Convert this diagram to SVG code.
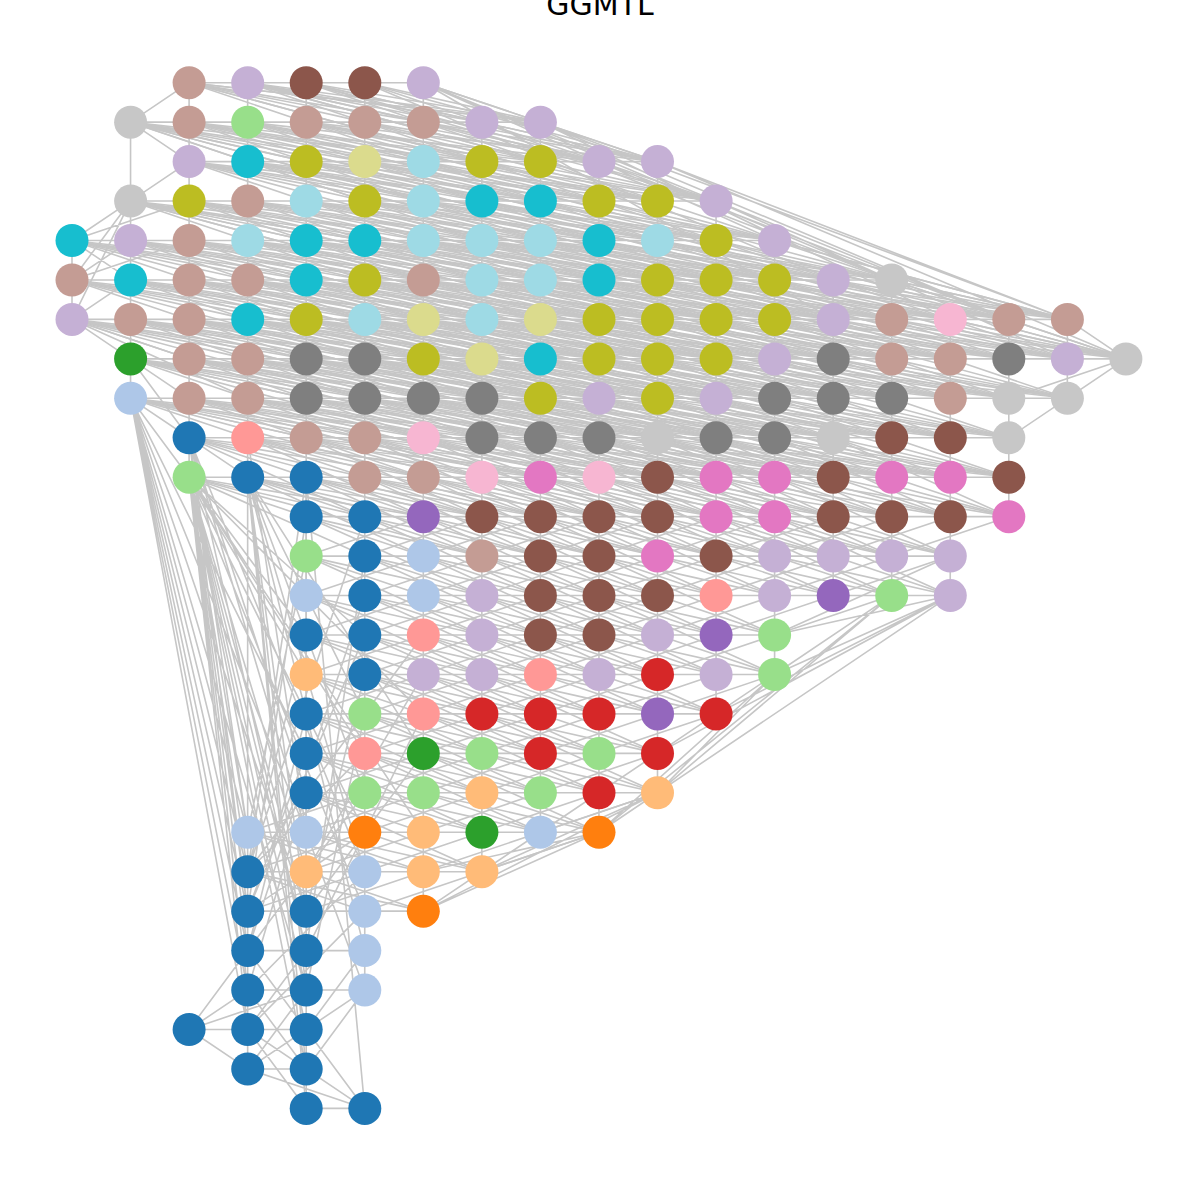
<svg xmlns="http://www.w3.org/2000/svg" width="1196" height="1180" viewBox="0 0 1196 1180">
<style>
.e path{fill:none;stroke:#c6c6c6;stroke-width:1.6px;vector-effect:non-scaling-stroke}
.bl{fill:#1f77b4}.lbl{fill:#aec7e8}.or{fill:#ff7f0e}.lor{fill:#ffbb78}.gr{fill:#2ca02c}.lgr{fill:#98df8a}.rd{fill:#d62728}.lrd{fill:#ff9896}.pu{fill:#9467bd}.lpu{fill:#c5b0d5}.br{fill:#8c564b}.lbr{fill:#c49c94}.pk{fill:#e377c2}.lpk{fill:#f7b6d2}.gy{fill:#7f7f7f}.lgy{fill:#c7c7c7}.ol{fill:#bcbd22}.lol{fill:#dbdb8d}.cy{fill:#17becf}.lcy{fill:#9edae5}
.t{font-family:"DejaVu Sans","Liberation Sans",sans-serif;font-size:30px;fill:#000}
</style>
<rect width="1196" height="1180" fill="#fff"/>
<text class="t" x="600" y="15" text-anchor="middle">GGMTL</text>
<g id="connectors" class="e" transform="translate(72 82.7) scale(58.55 39.45)">
<path vector-effect="non-scaling-stroke" d="M2 0l3 1m-2-1l3 1m-2-1l3 1m-2-1l3 1m-2-1
M1 1l3 1m-2-1l3 1m-2-1l3 1m-2-1l3 1m-2-1 l3 1m-2-1l3 1m-2-1l3 1m-2-1
M2 2l3 1m-2-1l3 1m-2-1l3 1m-2-1l3 1m-2-1 l3 1m-2-1l3 1m-2-1l3 1m-2-1
M1 3l3 1m-2-1l3 1m-2-1l3 1m-2-1l3 1m-2-1 l3 1m-2-1l3 1m-2-1l3 1m-2-1l3 1m-2-1 l3 1m-2-1
M0 4l3 1m-2-1l3 1m-2-1l3 1m-2-1l3 1m-2-1 l3 1m-2-1l3 1m-2-1l3 1m-2-1l3 1m-2-1 l3 1m-2-1l3 1m-2-1l3 1m-2-1l3 1m-2-1
M0 5l3 1m-2-1l3 1m-2-1l3 1m-2-1l3 1m-2-1 l3 1m-2-1l3 1m-2-1l3 1m-2-1l3 1m-2-1 l3 1m-2-1l3 1m-2-1l3 1m-2-1l3 1m-2-1 l3 1m-2-1l3 1m-2-1l3 1m-2-1
M0 6l3 1m-2-1l3 1m-2-1l3 1m-2-1l3 1m-2-1 l3 1m-2-1l3 1m-2-1l3 1m-2-1l3 1m-2-1 l3 1m-2-1l3 1m-2-1l3 1m-2-1l3 1m-2-1 l3 1m-2-1l3 1m-2-1l3 1m-2-1l3 1m-2-1
M1 7l3 1m-2-1l3 1m-2-1l3 1m-2-1l3 1m-2-1 l3 1m-2-1l3 1m-2-1l3 1m-2-1l3 1m-2-1 l3 1m-2-1l3 1m-2-1l3 1m-2-1l3 1m-2-1 l3 1m-2-1l3 1m-2-1
M1 8l3 1m-2-1l3 1m-2-1l3 1m-2-1l3 1m-2-1 l3 1m-2-1l3 1m-2-1l3 1m-2-1l3 1m-2-1 l3 1m-2-1l3 1m-2-1l3 1m-2-1l3 1m-2-1 l3 1m-2-1
M2 9l3 1m-2-1l3 1m-2-1l3 1m-2-1l3 1m-2-1 l3 1m-2-1l3 1m-2-1l3 1m-2-1l3 1m-2-1 l3 1m-2-1l3 1m-2-1l3 1m-2-1l3 1m-2-1
M2 10l3 1m-2-1l3 1m-2-1l3 1m-2-1l3 1m-2-1 l3 1m-2-1l3 1m-2-1l3 1m-2-1l3 1m-2-1 l3 1m-2-1l3 1m-2-1l3 1m-2-1l3 1m-2-1
M4 11l3 1m-2-1l3 1m-2-1l3 1m-2-1l3 1m-2-1 l3 1m-2-1l3 1m-2-1l3 1m-2-1l3 1m-2-1 l3 1m-2-1
M4 12l3 1m-2-1l3 1m-2-1l3 1m-2-1l3 1m-2-1 l3 1m-2-1l3 1m-2-1l3 1m-2-1l3 1m-2-1 l3 1m-2-1
M4 13l3 1m-2-1l3 1m-2-1l3 1m-2-1l3 1m-2-1 l3 1m-2-1l3 1m-2-1
M4 14l3 1m-2-1l3 1m-2-1l3 1m-2-1l3 1m-2-1 l3 1m-2-1l3 1m-2-1
M4 15l3 1m-2-1l3 1m-2-1l3 1m-2-1l3 1m-2-1 l3 1m-2-1
M4 16l3 1m-2-1l3 1m-2-1l3 1m-2-1l3 1m-2-1
M4 17l3 1m-2-1l3 1m-2-1l3 1m-2-1l3 1m-2-1
M4 18l3 1m-2-1l3 1m-2-1l3 1m-2-1
M3 19l3 1m-2-1l3 1m-2-1
M3 20l3 1m-2-1"/>
<path vector-effect="non-scaling-stroke" d="M2 0l5 2m-4-2l5 2m-4-2l5 2m-4-2l5 2m-4-2
M1 1l5 2m-4-2l5 2m-4-2l5 2m-4-2l5 2m-4-2 l5 2m-4-2l5 2m-4-2
M2 2l5 2m-4-2l5 2m-4-2l5 2m-4-2l5 2m-4-2 l5 2m-4-2l5 2m-4-2
M1 3l5 2m-4-2l5 2m-4-2l5 2m-4-2l5 2m-4-2 l5 2m-4-2l5 2m-4-2l5 2m-4-2l5 2m-4-2 l5 2m-4-2
M0 4l5 2m-4-2l5 2m-4-2l5 2m-4-2l5 2m-4-2 l5 2m-4-2l5 2m-4-2l5 2m-4-2l5 2m-4-2 l5 2m-4-2l5 2m-4-2l5 2m-4-2l5 2m-4-2 l5 2m-4-2
M0 5l5 2m-4-2l5 2m-4-2l5 2m-4-2l5 2m-4-2 l5 2m-4-2l5 2m-4-2l5 2m-4-2l5 2m-4-2 l5 2m-4-2l5 2m-4-2l5 2m-4-2l5 2m-4-2 l5 2m-4-2l5 2m-4-2
M0 6l5 2m-4-2l5 2m-4-2l5 2m-4-2l5 2m-4-2 l5 2m-4-2l5 2m-4-2l5 2m-4-2l5 2m-4-2 l5 2m-4-2l5 2m-4-2l5 2m-4-2l5 2m-4-2 l5 2m-4-2
M1 7l5 2m-4-2l5 2m-4-2l5 2m-4-2l5 2m-4-2 l5 2m-4-2l5 2m-4-2l5 2m-4-2l5 2m-4-2 l5 2m-4-2l5 2m-4-2l5 2m-4-2
M1 8l5 2m-4-2l5 2m-4-2l5 2m-4-2l5 2m-4-2 l5 2m-4-2l5 2m-4-2l5 2m-4-2l5 2m-4-2 l5 2m-4-2l5 2m-4-2l5 2m-4-2
M2 9l5 2m-4-2l5 2m-4-2l5 2m-4-2l5 2m-4-2 l5 2m-4-2l5 2m-4-2l5 2m-4-2l5 2m-4-2 l5 2m-4-2l5 2m-4-2
M2 10l5 2m-4-2l5 2m-4-2l5 2m-4-2l5 2m-4-2 l5 2m-4-2l5 2m-4-2l5 2m-4-2l5 2m-4-2 l5 2m-4-2"/>
<path vector-effect="non-scaling-stroke" d="M2 0l2 1m-1-1l2 1m-1-1l2 1m-1-1l2 1m-1-1 l2 1m-1-1
M1 1l2 1m-1-1l2 1m-1-1l2 1m-1-1l2 1m-1-1 l2 1m-1-1l2 1m-1-1l2 1m-1-1l2 1m-1-1
M2 2l2 1m-1-1l2 1m-1-1l2 1m-1-1l2 1m-1-1 l2 1m-1-1l2 1m-1-1l2 1m-1-1l2 1m-1-1
M1 3l2 1m-1-1l2 1m-1-1l2 1m-1-1l2 1m-1-1 l2 1m-1-1l2 1m-1-1l2 1m-1-1l2 1m-1-1 l2 1m-1-1l2 1m-1-1
M0 4l2 1m-1-1l2 1m-1-1l2 1m-1-1l2 1m-1-1 l2 1m-1-1l2 1m-1-1l2 1m-1-1l2 1m-1-1 l2 1m-1-1l2 1m-1-1l2 1m-1-1l2 1m-1-1 l2 1m-1-1
M0 5l2 1m-1-1l2 1m-1-1l2 1m-1-1l2 1m-1-1 l2 1m-1-1l2 1m-1-1l2 1m-1-1l2 1m-1-1 l2 1m-1-1l2 1m-1-1l2 1m-1-1l2 1m-1-1 l2 1m-1-1l2 1m-1-1l2 1m-1-1
M0 6l2 1m-1-1l2 1m-1-1l2 1m-1-1l2 1m-1-1 l2 1m-1-1l2 1m-1-1l2 1m-1-1l2 1m-1-1 l2 1m-1-1l2 1m-1-1l2 1m-1-1l2 1m-1-1 l2 1m-1-1l2 1m-1-1l2 1m-1-1l2 1m-1-1 l2 1m-1-1
M1 7l2 1m-1-1l2 1m-1-1l2 1m-1-1l2 1m-1-1 l2 1m-1-1l2 1m-1-1l2 1m-1-1l2 1m-1-1 l2 1m-1-1l2 1m-1-1l2 1m-1-1l2 1m-1-1 l2 1m-1-1l2 1m-1-1l2 1m-1-1
M1 8l2 1m-1-1l2 1m-1-1l2 1m-1-1l2 1m-1-1 l2 1m-1-1l2 1m-1-1l2 1m-1-1l2 1m-1-1 l2 1m-1-1l2 1m-1-1l2 1m-1-1l2 1m-1-1 l2 1m-1-1l2 1m-1-1
M2 9l2 1m-1-1l2 1m-1-1l2 1m-1-1l2 1m-1-1 l2 1m-1-1l2 1m-1-1l2 1m-1-1l2 1m-1-1 l2 1m-1-1l2 1m-1-1l2 1m-1-1l2 1m-1-1 l2 1m-1-1
M2 10l2 1m-1-1l2 1m-1-1l2 1m-1-1l2 1m-1-1 l2 1m-1-1l2 1m-1-1l2 1m-1-1l2 1m-1-1 l2 1m-1-1l2 1m-1-1l2 1m-1-1l2 1m-1-1 l2 1m-1-1
M4 11l2 1m-1-1l2 1m-1-1l2 1m-1-1l2 1m-1-1 l2 1m-1-1l2 1m-1-1l2 1m-1-1l2 1m-1-1 l2 1m-1-1l2 1m-1-1
M4 12l2 1m-1-1l2 1m-1-1l2 1m-1-1l2 1m-1-1 l2 1m-1-1l2 1m-1-1l2 1m-1-1l2 1m-1-1 l2 1m-1-1l2 1m-1-1
M4 13l2 1m-1-1l2 1m-1-1l2 1m-1-1l2 1m-1-1 l2 1m-1-1l2 1m-1-1l2 1m-1-1
M4 14l2 1m-1-1l2 1m-1-1l2 1m-1-1l2 1m-1-1 l2 1m-1-1l2 1m-1-1l2 1m-1-1
M4 15l2 1m-1-1l2 1m-1-1l2 1m-1-1l2 1m-1-1 l2 1m-1-1l2 1m-1-1
M4 16l2 1m-1-1l2 1m-1-1l2 1m-1-1l2 1m-1-1 l2 1m-1-1
M4 17l2 1m-1-1l2 1m-1-1l2 1m-1-1l2 1m-1-1 l2 1m-1-1
M4 18l2 1m-1-1l2 1m-1-1l2 1m-1-1l2 1m-1-1
M3 19l2 1m-1-1l2 1m-1-1l2 1m-1-1
M3 20l2 1m-1-1l2 1m-1-1"/>
<path vector-effect="non-scaling-stroke" d="M2 0l7 2m-6-2l7 2m-6-2
M1 1l7 2m-6-2l7 2m-6-2l7 2m-6-2l7 2m-6-2
M2 2l7 2m-6-2l7 2m-6-2l7 2m-6-2l7 2m-6-2
M1 3l7 2m-6-2l7 2m-6-2l7 2m-6-2l7 2m-6-2 l7 2m-6-2l7 2m-6-2l7 2m-6-2
M0 4l7 2m-6-2l7 2m-6-2l7 2m-6-2l7 2m-6-2 l7 2m-6-2l7 2m-6-2l7 2m-6-2l7 2m-6-2 l7 2m-6-2l7 2m-6-2l7 2m-6-2
M0 5l7 2m-6-2l7 2m-6-2l7 2m-6-2l7 2m-6-2 l7 2m-6-2l7 2m-6-2l7 2m-6-2l7 2m-6-2 l7 2m-6-2l7 2m-6-2l7 2m-6-2l7 2m-6-2
M0 6l7 2m-6-2l7 2m-6-2l7 2m-6-2l7 2m-6-2 l7 2m-6-2l7 2m-6-2l7 2m-6-2l7 2m-6-2 l7 2m-6-2l7 2m-6-2l7 2m-6-2
M1 7l7 2m-6-2l7 2m-6-2l7 2m-6-2l7 2m-6-2 l7 2m-6-2l7 2m-6-2l7 2m-6-2l7 2m-6-2 l7 2m-6-2
M1 8l7 2m-6-2l7 2m-6-2l7 2m-6-2l7 2m-6-2 l7 2m-6-2l7 2m-6-2l7 2m-6-2l7 2m-6-2 l7 2m-6-2"/>
<path vector-effect="non-scaling-stroke" d="M2 0l4 1m-3-1l4 1m-3-1l4 1m-3-1
M1 1l4 1m-3-1l4 1m-3-1l4 1m-3-1l4 1m-3-1 l4 1m-3-1l4 1m-3-1
M2 2l4 1m-3-1l4 1m-3-1l4 1m-3-1l4 1m-3-1 l4 1m-3-1l4 1m-3-1
M1 3l4 1m-3-1l4 1m-3-1l4 1m-3-1l4 1m-3-1 l4 1m-3-1l4 1m-3-1l4 1m-3-1l4 1m-3-1
M0 4l4 1m-3-1l4 1m-3-1l4 1m-3-1l4 1m-3-1 l4 1m-3-1l4 1m-3-1l4 1m-3-1l4 1m-3-1 l4 1m-3-1l4 1m-3-1l4 1m-3-1
M0 5l4 1m-3-1l4 1m-3-1l4 1m-3-1l4 1m-3-1 l4 1m-3-1l4 1m-3-1l4 1m-3-1l4 1m-3-1 l4 1m-3-1l4 1m-3-1l4 1m-3-1l4 1m-3-1 l4 1m-3-1l4 1m-3-1
M0 6l4 1m-3-1l4 1m-3-1l4 1m-3-1l4 1m-3-1 l4 1m-3-1l4 1m-3-1l4 1m-3-1l4 1m-3-1 l4 1m-3-1l4 1m-3-1l4 1m-3-1l4 1m-3-1 l4 1m-3-1l4 1m-3-1l4 1m-3-1
M1 7l4 1m-3-1l4 1m-3-1l4 1m-3-1l4 1m-3-1 l4 1m-3-1l4 1m-3-1l4 1m-3-1l4 1m-3-1 l4 1m-3-1l4 1m-3-1l4 1m-3-1l4 1m-3-1 l4 1m-3-1
M1 8l4 1m-3-1l4 1m-3-1l4 1m-3-1l4 1m-3-1 l4 1m-3-1l4 1m-3-1l4 1m-3-1l4 1m-3-1 l4 1m-3-1l4 1m-3-1l4 1m-3-1l4 1m-3-1
M2 9l4 1m-3-1l4 1m-3-1l4 1m-3-1l4 1m-3-1 l4 1m-3-1l4 1m-3-1l4 1m-3-1l4 1m-3-1 l4 1m-3-1l4 1m-3-1l4 1m-3-1
M2 10l4 1m-3-1l4 1m-3-1l4 1m-3-1l4 1m-3-1 l4 1m-3-1l4 1m-3-1l4 1m-3-1l4 1m-3-1 l4 1m-3-1l4 1m-3-1l4 1m-3-1"/>
<path vector-effect="non-scaling-stroke" d="M2 0l6 1m-5-1
M1 1l6 1m-5-1l6 1m-5-1l6 1m-5-1l6 1m-5-1
M2 2l6 1m-5-1l6 1m-5-1l6 1m-5-1l6 1m-5-1
M1 3l6 1m-5-1l6 1m-5-1l6 1m-5-1l6 1m-5-1 l6 1m-5-1l6 1m-5-1
M0 4l6 1m-5-1l6 1m-5-1l6 1m-5-1l6 1m-5-1 l6 1m-5-1l6 1m-5-1l6 1m-5-1l6 1m-5-1 l6 1m-5-1
M0 5l6 1m-5-1l6 1m-5-1l6 1m-5-1l6 1m-5-1 l6 1m-5-1l6 1m-5-1l6 1m-5-1l6 1m-5-1 l6 1m-5-1l6 1m-5-1l6 1m-5-1l6 1m-5-1
M0 6l6 1m-5-1l6 1m-5-1l6 1m-5-1l6 1m-5-1 l6 1m-5-1l6 1m-5-1l6 1m-5-1l6 1m-5-1 l6 1m-5-1l6 1m-5-1l6 1m-5-1l6 1m-5-1 l6 1m-5-1
M1 7l6 1m-5-1l6 1m-5-1l6 1m-5-1l6 1m-5-1 l6 1m-5-1l6 1m-5-1l6 1m-5-1l6 1m-5-1 l6 1m-5-1l6 1m-5-1l6 1m-5-1
M1 8l6 1m-5-1l6 1m-5-1l6 1m-5-1l6 1m-5-1 l6 1m-5-1l6 1m-5-1l6 1m-5-1l6 1m-5-1 l6 1m-5-1l6 1m-5-1
M2 9l6 1m-5-1l6 1m-5-1l6 1m-5-1l6 1m-5-1 l6 1m-5-1l6 1m-5-1l6 1m-5-1l6 1m-5-1 l6 1m-5-1"/>
<path vector-effect="non-scaling-stroke" d="M1 1l9 2m-8-2l9 2m-8-2
M2 2l9 2m-8-2l9 2m-8-2
M1 3l9 2m-8-2l9 2m-8-2l9 2m-8-2l9 2m-8-2 l9 2m-8-2
M0 4l9 2m-8-2l9 2m-8-2l9 2m-8-2l9 2m-8-2 l9 2m-8-2l9 2m-8-2l9 2m-8-2l9 2m-8-2 l9 2m-8-2
M0 5l9 2m-8-2l9 2m-8-2l9 2m-8-2l9 2m-8-2 l9 2m-8-2l9 2m-8-2l9 2m-8-2l9 2m-8-2 l9 2m-8-2l9 2m-8-2
M0 6l9 2m-8-2l9 2m-8-2l9 2m-8-2l9 2m-8-2 l9 2m-8-2l9 2m-8-2l9 2m-8-2l9 2m-8-2 l9 2m-8-2
M1 7l9 2m-8-2l9 2m-8-2l9 2m-8-2l9 2m-8-2 l9 2m-8-2l9 2m-8-2l9 2m-8-2
M1 8l9 2m-8-2l9 2m-8-2l9 2m-8-2l9 2m-8-2 l9 2m-8-2l9 2m-8-2l9 2m-8-2"/>
<path vector-effect="non-scaling-stroke" d="M2 9l3 2m-2-2l3 2m-2-2l3 2m-2-2l3 2m-2-2 l3 2m-2-2l3 2m-2-2l3 2m-2-2l3 2m-2-2 l3 2m-2-2l3 2m-2-2l3 2m-2-2l3 2m-2-2
M2 10l3 2m-2-2l3 2m-2-2l3 2m-2-2l3 2m-2-2 l3 2m-2-2l3 2m-2-2l3 2m-2-2l3 2m-2-2 l3 2m-2-2l3 2m-2-2l3 2m-2-2
M4 11l3 2m-2-2l3 2m-2-2l3 2m-2-2l3 2m-2-2 l3 2m-2-2l3 2m-2-2l3 2m-2-2l3 2m-2-2 l3 2m-2-2
M4 12l3 2m-2-2l3 2m-2-2l3 2m-2-2l3 2m-2-2 l3 2m-2-2l3 2m-2-2
M4 13l3 2m-2-2l3 2m-2-2l3 2m-2-2l3 2m-2-2 l3 2m-2-2l3 2m-2-2
M4 14l3 2m-2-2l3 2m-2-2l3 2m-2-2l3 2m-2-2 l3 2m-2-2
M4 15l3 2m-2-2l3 2m-2-2l3 2m-2-2l3 2m-2-2
M4 16l3 2m-2-2l3 2m-2-2l3 2m-2-2l3 2m-2-2
M4 17l3 2m-2-2l3 2m-2-2l3 2m-2-2
M4 18l3 2m-2-2"/>
<path vector-effect="non-scaling-stroke" d="M6 11l-2 1m3-1l-2 1m3-1l-2 1m3-1l-2 1m3-1 l-2 1m3-1l-2 1m3-1l-2 1m3-1l-2 1m3-1 l-2 1m3-1l-2 1m3-1l-2 1m3-1
M6 12l-2 1m3-1l-2 1m3-1l-2 1m3-1l-2 1m3-1 l-2 1m3-1l-2 1m3-1l-2 1m3-1l-2 1m3-1 l-2 1m3-1l-2 1m3-1
M6 13l-2 1m3-1l-2 1m3-1l-2 1m3-1l-2 1m3-1 l-2 1m3-1l-2 1m3-1l-2 1m3-1l-2 1m3-1 l-2 1m3-1
M6 14l-2 1m3-1l-2 1m3-1l-2 1m3-1l-2 1m3-1 l-2 1m3-1l-2 1m3-1l-2 1m3-1
M6 15l-2 1m3-1l-2 1m3-1l-2 1m3-1l-2 1m3-1 l-2 1m3-1l-2 1m3-1l-2 1m3-1
M6 16l-2 1m3-1l-2 1m3-1l-2 1m3-1l-2 1m3-1 l-2 1m3-1l-2 1m3-1
M6 17l-2 1m3-1l-2 1m3-1l-2 1m3-1l-2 1m3-1 l-2 1m3-1
M5 18l-2 1m3-1l-2 1m3-1l-2 1m3-1l-2 1m3-1 l-2 1m3-1l-2 1m3-1
M5 19l-2 1m3-1l-2 1m3-1l-2 1m3-1l-2 1m3-1 l-2 1m3-1
M5 20l-2 1m3-1l-2 1m3-1l-2 1m3-1"/>
<path vector-effect="non-scaling-stroke" d="M2 0H6M1 1H8M2 2H10M1 3H11M0 4H12M0 5H14M0 6H17M1 7H18M1 8H17M2 9H16M2 10H16M4 11H16M4 12H15M4 13H15M4 14H12M4 15H12M4 16H11M4 17H10M4 18H10M3 19H9M3 20H7M3 21H6M3 22H5M3 23H5M2 24H4M3 25H4M4 26H5
M0 4V6M1 3V8M1 1V3M2 0V10M3 0V10M3 19V25M4 0V26M5 0V23M6 0V21M7 1V20M8 1V19M9 2V19M10 2V18M11 3V16M12 4V15M13 5V13M14 5V13M15 6V13M16 6V11M17 6V8"/>
<path vector-effect="non-scaling-stroke" d="M6 0L14 5M6 0L12 4M6 0L13 6M5 0L13 5M4 0L11 3M7 1L14 5M8 1L17 6M8 1L16 6M8 1L15 6M10 2L17 6M10 2L18 7M9 2L16 6M11 3L16 6M11 3L17 7M12 4L17 6M14 5L18 7M14 5L17 6M13 5L18 7M15 6L18 7M16 6L18 7M17 6L18 7M16 8L18 7M17 8L18 7M16 9L18 7M3 0L9 2M3 0L8 2M2 0L7 2M2 0L8 1M3 0L8 1M4 0L10 2M6 0L10 2M6 0L11 3
M1 1L2 0M1 1L2 2M1 1L4 2M1 1L5 3M1 1L6 3M1 3L2 2M1 3L0 4M1 3L0 5M1 3L0 6M1 3L5 4M1 3L6 5M1 3L4 4M0 4L1 5M0 5L1 4M0 6L1 5M0 4L2 3M0 5L2 4M0 6L2 7M0 6L3 8M0 6L2 8M1 7L0 6M1 7L2 9M1 8L2 9M1 8L3 10M1 8L2 10M1 7L4 8M1 8L4 9
M1 8L3 19M1 8L3 20M1 8L3 21M1 8L3 22M1 8L3 23M1 8L3 24M1 8L4 21M1 8L4 23M1 8L4 19M1 8L4 17
M2 10L3 19M2 10L3 20M2 10L3 21M2 10L4 20M2 10L4 21M2 10L4 22M2 10L3 22M2 10L3 23M2 10L4 23M2 10L3 24M2 10L4 24M2 10L4 25M2 10L5 19M2 10L5 21M2 10L4 16M2 10L5 17M2 10L6 19M2 10L4 14M2 10L4 13M2 10L5 14M2 10L6 16M2 10L4 15
M2 9L3 19M2 9L4 19M2 9L3 21M2 9L4 22M2 9L4 18M2 9L5 20
M3 10L3 19M3 10L4 21M3 10L4 23M3 10L4 25M3 10L4 26M3 10L5 22M3 10L5 20M3 10L5 16M3 10L6 17M3 10L5 18
M4 10L5 26M4 10L4 20M4 10L3 20M3 9L4 19
M2 24L3 23M2 24L3 25M2 24L3 22M2 24L4 23M3 25L5 26M4 25L5 26M4 24L5 26M3 24L4 26M3 24L5 26M3 23L4 25M4 23L3 25M4 22L3 24M3 22L4 24
M4 17L3 21M4 16L3 22M4 18L3 23M4 14L3 20M5 14L3 21M5 15L4 21M5 13L3 22M5 12L4 22M5 11L3 20M4 12L3 19M5 16L4 23M4 11L3 21M5 17L3 20M6 15L4 20M6 14L3 20M6 16L4 22M5 18L3 22M5 19L3 21M5 20L3 23M5 21L3 24M5 22L4 24M5 23L4 25M5 23L3 25M6 17L4 21M4 19L5 23
M6 21L9 19M6 21L8 19M7 20L10 18M7 20L9 19M6 20L9 19M9 19L12 15M9 19L14 13M10 18L12 15M10 18L14 13M10 18L15 13M10 17L15 13M11 16L15 13M11 16L14 13M12 15L15 13M12 15L14 13M12 14L15 12M12 14L15 13M8 19L10 18M7 20L10 17M6 21L10 18M9 19L15 13M8 19L12 15"/>
</g>
<g id="nodes">
<g id="n0_2" class="lbr"><circle cx="189.1" cy="82.7" r="16.5"/></g>
<g id="n0_3" class="lpu"><circle cx="247.7" cy="82.7" r="16.5"/></g>
<g id="n0_4" class="br"><circle cx="306.2" cy="82.7" r="16.5"/></g>
<g id="n0_5" class="br"><circle cx="364.8" cy="82.7" r="16.5"/></g>
<g id="n0_6" class="lpu"><circle cx="423.3" cy="82.7" r="16.5"/></g>
<g id="n1_1" class="lgy"><circle cx="130.6" cy="122.2" r="16.5"/></g>
<g id="n1_2" class="lbr"><circle cx="189.1" cy="122.2" r="16.5"/></g>
<g id="n1_3" class="lgr"><circle cx="247.7" cy="122.2" r="16.5"/></g>
<g id="n1_4" class="lbr"><circle cx="306.2" cy="122.2" r="16.5"/></g>
<g id="n1_5" class="lbr"><circle cx="364.8" cy="122.2" r="16.5"/></g>
<g id="n1_6" class="lbr"><circle cx="423.3" cy="122.2" r="16.5"/></g>
<g id="n1_7" class="lpu"><circle cx="481.9" cy="122.2" r="16.5"/></g>
<g id="n1_8" class="lpu"><circle cx="540.4" cy="122.2" r="16.5"/></g>
<g id="n2_2" class="lpu"><circle cx="189.1" cy="161.6" r="16.5"/></g>
<g id="n2_3" class="cy"><circle cx="247.7" cy="161.6" r="16.5"/></g>
<g id="n2_4" class="ol"><circle cx="306.2" cy="161.6" r="16.5"/></g>
<g id="n2_5" class="lol"><circle cx="364.8" cy="161.6" r="16.5"/></g>
<g id="n2_6" class="lcy"><circle cx="423.3" cy="161.6" r="16.5"/></g>
<g id="n2_7" class="ol"><circle cx="481.9" cy="161.6" r="16.5"/></g>
<g id="n2_8" class="ol"><circle cx="540.4" cy="161.6" r="16.5"/></g>
<g id="n2_9" class="lpu"><circle cx="599" cy="161.6" r="16.5"/></g>
<g id="n2_10" class="lpu"><circle cx="657.5" cy="161.6" r="16.5"/></g>
<g id="n3_1" class="lgy"><circle cx="130.6" cy="201.1" r="16.5"/></g>
<g id="n3_2" class="ol"><circle cx="189.1" cy="201.1" r="16.5"/></g>
<g id="n3_3" class="lbr"><circle cx="247.7" cy="201.1" r="16.5"/></g>
<g id="n3_4" class="lcy"><circle cx="306.2" cy="201.1" r="16.5"/></g>
<g id="n3_5" class="ol"><circle cx="364.8" cy="201.1" r="16.5"/></g>
<g id="n3_6" class="lcy"><circle cx="423.3" cy="201.1" r="16.5"/></g>
<g id="n3_7" class="cy"><circle cx="481.9" cy="201.1" r="16.5"/></g>
<g id="n3_8" class="cy"><circle cx="540.4" cy="201.1" r="16.5"/></g>
<g id="n3_9" class="ol"><circle cx="599" cy="201.1" r="16.5"/></g>
<g id="n3_10" class="ol"><circle cx="657.5" cy="201.1" r="16.5"/></g>
<g id="n3_11" class="lpu"><circle cx="716.1" cy="201.1" r="16.5"/></g>
<g id="n4_0" class="cy"><circle cx="72" cy="240.5" r="16.5"/></g>
<g id="n4_1" class="lpu"><circle cx="130.6" cy="240.5" r="16.5"/></g>
<g id="n4_2" class="lbr"><circle cx="189.1" cy="240.5" r="16.5"/></g>
<g id="n4_3" class="lcy"><circle cx="247.7" cy="240.5" r="16.5"/></g>
<g id="n4_4" class="cy"><circle cx="306.2" cy="240.5" r="16.5"/></g>
<g id="n4_5" class="cy"><circle cx="364.8" cy="240.5" r="16.5"/></g>
<g id="n4_6" class="lcy"><circle cx="423.3" cy="240.5" r="16.5"/></g>
<g id="n4_7" class="lcy"><circle cx="481.9" cy="240.5" r="16.5"/></g>
<g id="n4_8" class="lcy"><circle cx="540.4" cy="240.5" r="16.5"/></g>
<g id="n4_9" class="cy"><circle cx="599" cy="240.5" r="16.5"/></g>
<g id="n4_10" class="lcy"><circle cx="657.5" cy="240.5" r="16.5"/></g>
<g id="n4_11" class="ol"><circle cx="716.1" cy="240.5" r="16.5"/></g>
<g id="n4_12" class="lpu"><circle cx="774.6" cy="240.5" r="16.5"/></g>
<g id="n5_0" class="lbr"><circle cx="72" cy="280" r="16.5"/></g>
<g id="n5_1" class="cy"><circle cx="130.6" cy="280" r="16.5"/></g>
<g id="n5_2" class="lbr"><circle cx="189.1" cy="280" r="16.5"/></g>
<g id="n5_3" class="lbr"><circle cx="247.7" cy="280" r="16.5"/></g>
<g id="n5_4" class="cy"><circle cx="306.2" cy="280" r="16.5"/></g>
<g id="n5_5" class="ol"><circle cx="364.8" cy="280" r="16.5"/></g>
<g id="n5_6" class="lbr"><circle cx="423.3" cy="280" r="16.5"/></g>
<g id="n5_7" class="lcy"><circle cx="481.9" cy="280" r="16.5"/></g>
<g id="n5_8" class="lcy"><circle cx="540.4" cy="280" r="16.5"/></g>
<g id="n5_9" class="cy"><circle cx="599" cy="280" r="16.5"/></g>
<g id="n5_10" class="ol"><circle cx="657.5" cy="280" r="16.5"/></g>
<g id="n5_11" class="ol"><circle cx="716.1" cy="280" r="16.5"/></g>
<g id="n5_12" class="ol"><circle cx="774.6" cy="280" r="16.5"/></g>
<g id="n5_13" class="lpu"><circle cx="833.2" cy="280" r="16.5"/></g>
<g id="n5_14" class="lgy"><circle cx="891.7" cy="280" r="16.5"/></g>
<g id="n6_0" class="lpu"><circle cx="72" cy="319.4" r="16.5"/></g>
<g id="n6_1" class="lbr"><circle cx="130.6" cy="319.4" r="16.5"/></g>
<g id="n6_2" class="lbr"><circle cx="189.1" cy="319.4" r="16.5"/></g>
<g id="n6_3" class="cy"><circle cx="247.7" cy="319.4" r="16.5"/></g>
<g id="n6_4" class="ol"><circle cx="306.2" cy="319.4" r="16.5"/></g>
<g id="n6_5" class="lcy"><circle cx="364.8" cy="319.4" r="16.5"/></g>
<g id="n6_6" class="lol"><circle cx="423.3" cy="319.4" r="16.5"/></g>
<g id="n6_7" class="lcy"><circle cx="481.9" cy="319.4" r="16.5"/></g>
<g id="n6_8" class="lol"><circle cx="540.4" cy="319.4" r="16.5"/></g>
<g id="n6_9" class="ol"><circle cx="599" cy="319.4" r="16.5"/></g>
<g id="n6_10" class="ol"><circle cx="657.5" cy="319.4" r="16.5"/></g>
<g id="n6_11" class="ol"><circle cx="716.1" cy="319.4" r="16.5"/></g>
<g id="n6_12" class="ol"><circle cx="774.6" cy="319.4" r="16.5"/></g>
<g id="n6_13" class="lpu"><circle cx="833.2" cy="319.4" r="16.5"/></g>
<g id="n6_14" class="lbr"><circle cx="891.7" cy="319.4" r="16.5"/></g>
<g id="n6_15" class="lpk"><circle cx="950.3" cy="319.4" r="16.5"/></g>
<g id="n6_16" class="lbr"><circle cx="1008.8" cy="319.4" r="16.5"/></g>
<g id="n6_17" class="lbr"><circle cx="1067.4" cy="319.4" r="16.5"/></g>
<g id="n7_1" class="gr"><circle cx="130.6" cy="358.9" r="16.5"/></g>
<g id="n7_2" class="lbr"><circle cx="189.1" cy="358.9" r="16.5"/></g>
<g id="n7_3" class="lbr"><circle cx="247.7" cy="358.9" r="16.5"/></g>
<g id="n7_4" class="gy"><circle cx="306.2" cy="358.9" r="16.5"/></g>
<g id="n7_5" class="gy"><circle cx="364.8" cy="358.9" r="16.5"/></g>
<g id="n7_6" class="ol"><circle cx="423.3" cy="358.9" r="16.5"/></g>
<g id="n7_7" class="lol"><circle cx="481.9" cy="358.9" r="16.5"/></g>
<g id="n7_8" class="cy"><circle cx="540.4" cy="358.9" r="16.5"/></g>
<g id="n7_9" class="ol"><circle cx="599" cy="358.9" r="16.5"/></g>
<g id="n7_10" class="ol"><circle cx="657.5" cy="358.9" r="16.5"/></g>
<g id="n7_11" class="ol"><circle cx="716.1" cy="358.9" r="16.5"/></g>
<g id="n7_12" class="lpu"><circle cx="774.6" cy="358.9" r="16.5"/></g>
<g id="n7_13" class="gy"><circle cx="833.2" cy="358.9" r="16.5"/></g>
<g id="n7_14" class="lbr"><circle cx="891.7" cy="358.9" r="16.5"/></g>
<g id="n7_15" class="lbr"><circle cx="950.3" cy="358.9" r="16.5"/></g>
<g id="n7_16" class="gy"><circle cx="1008.8" cy="358.9" r="16.5"/></g>
<g id="n7_17" class="lpu"><circle cx="1067.4" cy="358.9" r="16.5"/></g>
<g id="n7_18" class="lgy"><circle cx="1125.9" cy="358.9" r="16.5"/></g>
<g id="n8_1" class="lbl"><circle cx="130.6" cy="398.3" r="16.5"/></g>
<g id="n8_2" class="lbr"><circle cx="189.1" cy="398.3" r="16.5"/></g>
<g id="n8_3" class="lbr"><circle cx="247.7" cy="398.3" r="16.5"/></g>
<g id="n8_4" class="gy"><circle cx="306.2" cy="398.3" r="16.5"/></g>
<g id="n8_5" class="gy"><circle cx="364.8" cy="398.3" r="16.5"/></g>
<g id="n8_6" class="gy"><circle cx="423.3" cy="398.3" r="16.5"/></g>
<g id="n8_7" class="gy"><circle cx="481.9" cy="398.3" r="16.5"/></g>
<g id="n8_8" class="ol"><circle cx="540.4" cy="398.3" r="16.5"/></g>
<g id="n8_9" class="lpu"><circle cx="599" cy="398.3" r="16.5"/></g>
<g id="n8_10" class="ol"><circle cx="657.5" cy="398.3" r="16.5"/></g>
<g id="n8_11" class="lpu"><circle cx="716.1" cy="398.3" r="16.5"/></g>
<g id="n8_12" class="gy"><circle cx="774.6" cy="398.3" r="16.5"/></g>
<g id="n8_13" class="gy"><circle cx="833.2" cy="398.3" r="16.5"/></g>
<g id="n8_14" class="gy"><circle cx="891.7" cy="398.3" r="16.5"/></g>
<g id="n8_15" class="lbr"><circle cx="950.3" cy="398.3" r="16.5"/></g>
<g id="n8_16" class="lgy"><circle cx="1008.8" cy="398.3" r="16.5"/></g>
<g id="n8_17" class="lgy"><circle cx="1067.4" cy="398.3" r="16.5"/></g>
<g id="n9_2" class="bl"><circle cx="189.1" cy="437.8" r="16.5"/></g>
<g id="n9_3" class="lrd"><circle cx="247.7" cy="437.8" r="16.5"/></g>
<g id="n9_4" class="lbr"><circle cx="306.2" cy="437.8" r="16.5"/></g>
<g id="n9_5" class="lbr"><circle cx="364.8" cy="437.8" r="16.5"/></g>
<g id="n9_6" class="lpk"><circle cx="423.3" cy="437.8" r="16.5"/></g>
<g id="n9_7" class="gy"><circle cx="481.9" cy="437.8" r="16.5"/></g>
<g id="n9_8" class="gy"><circle cx="540.4" cy="437.8" r="16.5"/></g>
<g id="n9_9" class="gy"><circle cx="599" cy="437.8" r="16.5"/></g>
<g id="n9_10" class="lgy"><circle cx="657.5" cy="437.8" r="16.5"/></g>
<g id="n9_11" class="gy"><circle cx="716.1" cy="437.8" r="16.5"/></g>
<g id="n9_12" class="gy"><circle cx="774.6" cy="437.8" r="16.5"/></g>
<g id="n9_13" class="lgy"><circle cx="833.2" cy="437.8" r="16.5"/></g>
<g id="n9_14" class="br"><circle cx="891.7" cy="437.8" r="16.5"/></g>
<g id="n9_15" class="br"><circle cx="950.3" cy="437.8" r="16.5"/></g>
<g id="n9_16" class="lgy"><circle cx="1008.8" cy="437.8" r="16.5"/></g>
<g id="n10_2" class="lgr"><circle cx="189.1" cy="477.2" r="16.5"/></g>
<g id="n10_3" class="bl"><circle cx="247.7" cy="477.2" r="16.5"/></g>
<g id="n10_4" class="bl"><circle cx="306.2" cy="477.2" r="16.5"/></g>
<g id="n10_5" class="lbr"><circle cx="364.8" cy="477.2" r="16.5"/></g>
<g id="n10_6" class="lbr"><circle cx="423.3" cy="477.2" r="16.5"/></g>
<g id="n10_7" class="lpk"><circle cx="481.9" cy="477.2" r="16.5"/></g>
<g id="n10_8" class="pk"><circle cx="540.4" cy="477.2" r="16.5"/></g>
<g id="n10_9" class="lpk"><circle cx="599" cy="477.2" r="16.5"/></g>
<g id="n10_10" class="br"><circle cx="657.5" cy="477.2" r="16.5"/></g>
<g id="n10_11" class="pk"><circle cx="716.1" cy="477.2" r="16.5"/></g>
<g id="n10_12" class="pk"><circle cx="774.6" cy="477.2" r="16.5"/></g>
<g id="n10_13" class="br"><circle cx="833.2" cy="477.2" r="16.5"/></g>
<g id="n10_14" class="pk"><circle cx="891.7" cy="477.2" r="16.5"/></g>
<g id="n10_15" class="pk"><circle cx="950.3" cy="477.2" r="16.5"/></g>
<g id="n10_16" class="br"><circle cx="1008.8" cy="477.2" r="16.5"/></g>
<g id="n11_4" class="bl"><circle cx="306.2" cy="516.7" r="16.5"/></g>
<g id="n11_5" class="bl"><circle cx="364.8" cy="516.7" r="16.5"/></g>
<g id="n11_6" class="pu"><circle cx="423.3" cy="516.7" r="16.5"/></g>
<g id="n11_7" class="br"><circle cx="481.9" cy="516.7" r="16.5"/></g>
<g id="n11_8" class="br"><circle cx="540.4" cy="516.7" r="16.5"/></g>
<g id="n11_9" class="br"><circle cx="599" cy="516.7" r="16.5"/></g>
<g id="n11_10" class="br"><circle cx="657.5" cy="516.7" r="16.5"/></g>
<g id="n11_11" class="pk"><circle cx="716.1" cy="516.7" r="16.5"/></g>
<g id="n11_12" class="pk"><circle cx="774.6" cy="516.7" r="16.5"/></g>
<g id="n11_13" class="br"><circle cx="833.2" cy="516.7" r="16.5"/></g>
<g id="n11_14" class="br"><circle cx="891.7" cy="516.7" r="16.5"/></g>
<g id="n11_15" class="br"><circle cx="950.3" cy="516.7" r="16.5"/></g>
<g id="n11_16" class="pk"><circle cx="1008.8" cy="516.7" r="16.5"/></g>
<g id="n12_4" class="lgr"><circle cx="306.2" cy="556.1" r="16.5"/></g>
<g id="n12_5" class="bl"><circle cx="364.8" cy="556.1" r="16.5"/></g>
<g id="n12_6" class="lbl"><circle cx="423.3" cy="556.1" r="16.5"/></g>
<g id="n12_7" class="lbr"><circle cx="481.9" cy="556.1" r="16.5"/></g>
<g id="n12_8" class="br"><circle cx="540.4" cy="556.1" r="16.5"/></g>
<g id="n12_9" class="br"><circle cx="599" cy="556.1" r="16.5"/></g>
<g id="n12_10" class="pk"><circle cx="657.5" cy="556.1" r="16.5"/></g>
<g id="n12_11" class="br"><circle cx="716.1" cy="556.1" r="16.5"/></g>
<g id="n12_12" class="lpu"><circle cx="774.6" cy="556.1" r="16.5"/></g>
<g id="n12_13" class="lpu"><circle cx="833.2" cy="556.1" r="16.5"/></g>
<g id="n12_14" class="lpu"><circle cx="891.7" cy="556.1" r="16.5"/></g>
<g id="n12_15" class="lpu"><circle cx="950.3" cy="556.1" r="16.5"/></g>
<g id="n13_4" class="lbl"><circle cx="306.2" cy="595.6" r="16.5"/></g>
<g id="n13_5" class="bl"><circle cx="364.8" cy="595.6" r="16.5"/></g>
<g id="n13_6" class="lbl"><circle cx="423.3" cy="595.6" r="16.5"/></g>
<g id="n13_7" class="lpu"><circle cx="481.9" cy="595.6" r="16.5"/></g>
<g id="n13_8" class="br"><circle cx="540.4" cy="595.6" r="16.5"/></g>
<g id="n13_9" class="br"><circle cx="599" cy="595.6" r="16.5"/></g>
<g id="n13_10" class="br"><circle cx="657.5" cy="595.6" r="16.5"/></g>
<g id="n13_11" class="lrd"><circle cx="716.1" cy="595.6" r="16.5"/></g>
<g id="n13_12" class="lpu"><circle cx="774.6" cy="595.6" r="16.5"/></g>
<g id="n13_13" class="pu"><circle cx="833.2" cy="595.6" r="16.5"/></g>
<g id="n13_14" class="lgr"><circle cx="891.7" cy="595.6" r="16.5"/></g>
<g id="n13_15" class="lpu"><circle cx="950.3" cy="595.6" r="16.5"/></g>
<g id="n14_4" class="bl"><circle cx="306.2" cy="635" r="16.5"/></g>
<g id="n14_5" class="bl"><circle cx="364.8" cy="635" r="16.5"/></g>
<g id="n14_6" class="lrd"><circle cx="423.3" cy="635" r="16.5"/></g>
<g id="n14_7" class="lpu"><circle cx="481.9" cy="635" r="16.5"/></g>
<g id="n14_8" class="br"><circle cx="540.4" cy="635" r="16.5"/></g>
<g id="n14_9" class="br"><circle cx="599" cy="635" r="16.5"/></g>
<g id="n14_10" class="lpu"><circle cx="657.5" cy="635" r="16.5"/></g>
<g id="n14_11" class="pu"><circle cx="716.1" cy="635" r="16.5"/></g>
<g id="n14_12" class="lgr"><circle cx="774.6" cy="635" r="16.5"/></g>
<g id="n15_4" class="lor"><circle cx="306.2" cy="674.5" r="16.5"/></g>
<g id="n15_5" class="bl"><circle cx="364.8" cy="674.5" r="16.5"/></g>
<g id="n15_6" class="lpu"><circle cx="423.3" cy="674.5" r="16.5"/></g>
<g id="n15_7" class="lpu"><circle cx="481.9" cy="674.5" r="16.5"/></g>
<g id="n15_8" class="lrd"><circle cx="540.4" cy="674.5" r="16.5"/></g>
<g id="n15_9" class="lpu"><circle cx="599" cy="674.5" r="16.5"/></g>
<g id="n15_10" class="rd"><circle cx="657.5" cy="674.5" r="16.5"/></g>
<g id="n15_11" class="lpu"><circle cx="716.1" cy="674.5" r="16.5"/></g>
<g id="n15_12" class="lgr"><circle cx="774.6" cy="674.5" r="16.5"/></g>
<g id="n16_4" class="bl"><circle cx="306.2" cy="713.9" r="16.5"/></g>
<g id="n16_5" class="lgr"><circle cx="364.8" cy="713.9" r="16.5"/></g>
<g id="n16_6" class="lrd"><circle cx="423.3" cy="713.9" r="16.5"/></g>
<g id="n16_7" class="rd"><circle cx="481.9" cy="713.9" r="16.5"/></g>
<g id="n16_8" class="rd"><circle cx="540.4" cy="713.9" r="16.5"/></g>
<g id="n16_9" class="rd"><circle cx="599" cy="713.9" r="16.5"/></g>
<g id="n16_10" class="pu"><circle cx="657.5" cy="713.9" r="16.5"/></g>
<g id="n16_11" class="rd"><circle cx="716.1" cy="713.9" r="16.5"/></g>
<g id="n17_4" class="bl"><circle cx="306.2" cy="753.4" r="16.5"/></g>
<g id="n17_5" class="lrd"><circle cx="364.8" cy="753.4" r="16.5"/></g>
<g id="n17_6" class="gr"><circle cx="423.3" cy="753.4" r="16.5"/></g>
<g id="n17_7" class="lgr"><circle cx="481.9" cy="753.4" r="16.5"/></g>
<g id="n17_8" class="rd"><circle cx="540.4" cy="753.4" r="16.5"/></g>
<g id="n17_9" class="lgr"><circle cx="599" cy="753.4" r="16.5"/></g>
<g id="n17_10" class="rd"><circle cx="657.5" cy="753.4" r="16.5"/></g>
<g id="n18_4" class="bl"><circle cx="306.2" cy="792.8" r="16.5"/></g>
<g id="n18_5" class="lgr"><circle cx="364.8" cy="792.8" r="16.5"/></g>
<g id="n18_6" class="lgr"><circle cx="423.3" cy="792.8" r="16.5"/></g>
<g id="n18_7" class="lor"><circle cx="481.9" cy="792.8" r="16.5"/></g>
<g id="n18_8" class="lgr"><circle cx="540.4" cy="792.8" r="16.5"/></g>
<g id="n18_9" class="rd"><circle cx="599" cy="792.8" r="16.5"/></g>
<g id="n18_10" class="lor"><circle cx="657.5" cy="792.8" r="16.5"/></g>
<g id="n19_3" class="lbl"><circle cx="247.7" cy="832.3" r="16.5"/></g>
<g id="n19_4" class="lbl"><circle cx="306.2" cy="832.3" r="16.5"/></g>
<g id="n19_5" class="or"><circle cx="364.8" cy="832.3" r="16.5"/></g>
<g id="n19_6" class="lor"><circle cx="423.3" cy="832.3" r="16.5"/></g>
<g id="n19_7" class="gr"><circle cx="481.9" cy="832.3" r="16.5"/></g>
<g id="n19_8" class="lbl"><circle cx="540.4" cy="832.3" r="16.5"/></g>
<g id="n19_9" class="or"><circle cx="599" cy="832.3" r="16.5"/></g>
<g id="n20_3" class="bl"><circle cx="247.7" cy="871.7" r="16.5"/></g>
<g id="n20_4" class="lor"><circle cx="306.2" cy="871.7" r="16.5"/></g>
<g id="n20_5" class="lbl"><circle cx="364.8" cy="871.7" r="16.5"/></g>
<g id="n20_6" class="lor"><circle cx="423.3" cy="871.7" r="16.5"/></g>
<g id="n20_7" class="lor"><circle cx="481.9" cy="871.7" r="16.5"/></g>
<g id="n21_3" class="bl"><circle cx="247.7" cy="911.2" r="16.5"/></g>
<g id="n21_4" class="bl"><circle cx="306.2" cy="911.2" r="16.5"/></g>
<g id="n21_5" class="lbl"><circle cx="364.8" cy="911.2" r="16.5"/></g>
<g id="n21_6" class="or"><circle cx="423.3" cy="911.2" r="16.5"/></g>
<g id="n22_3" class="bl"><circle cx="247.7" cy="950.6" r="16.5"/></g>
<g id="n22_4" class="bl"><circle cx="306.2" cy="950.6" r="16.5"/></g>
<g id="n22_5" class="lbl"><circle cx="364.8" cy="950.6" r="16.5"/></g>
<g id="n23_3" class="bl"><circle cx="247.7" cy="990.1" r="16.5"/></g>
<g id="n23_4" class="bl"><circle cx="306.2" cy="990.1" r="16.5"/></g>
<g id="n23_5" class="lbl"><circle cx="364.8" cy="990.1" r="16.5"/></g>
<g id="n24_2" class="bl"><circle cx="189.1" cy="1029.5" r="16.5"/></g>
<g id="n24_3" class="bl"><circle cx="247.7" cy="1029.5" r="16.5"/></g>
<g id="n24_4" class="bl"><circle cx="306.2" cy="1029.5" r="16.5"/></g>
<g id="n25_3" class="bl"><circle cx="247.7" cy="1069" r="16.5"/></g>
<g id="n25_4" class="bl"><circle cx="306.2" cy="1069" r="16.5"/></g>
<g id="n26_4" class="bl"><circle cx="306.2" cy="1108.4" r="16.5"/></g>
<g id="n26_5" class="bl"><circle cx="364.8" cy="1108.4" r="16.5"/></g>
</g>
</svg>
